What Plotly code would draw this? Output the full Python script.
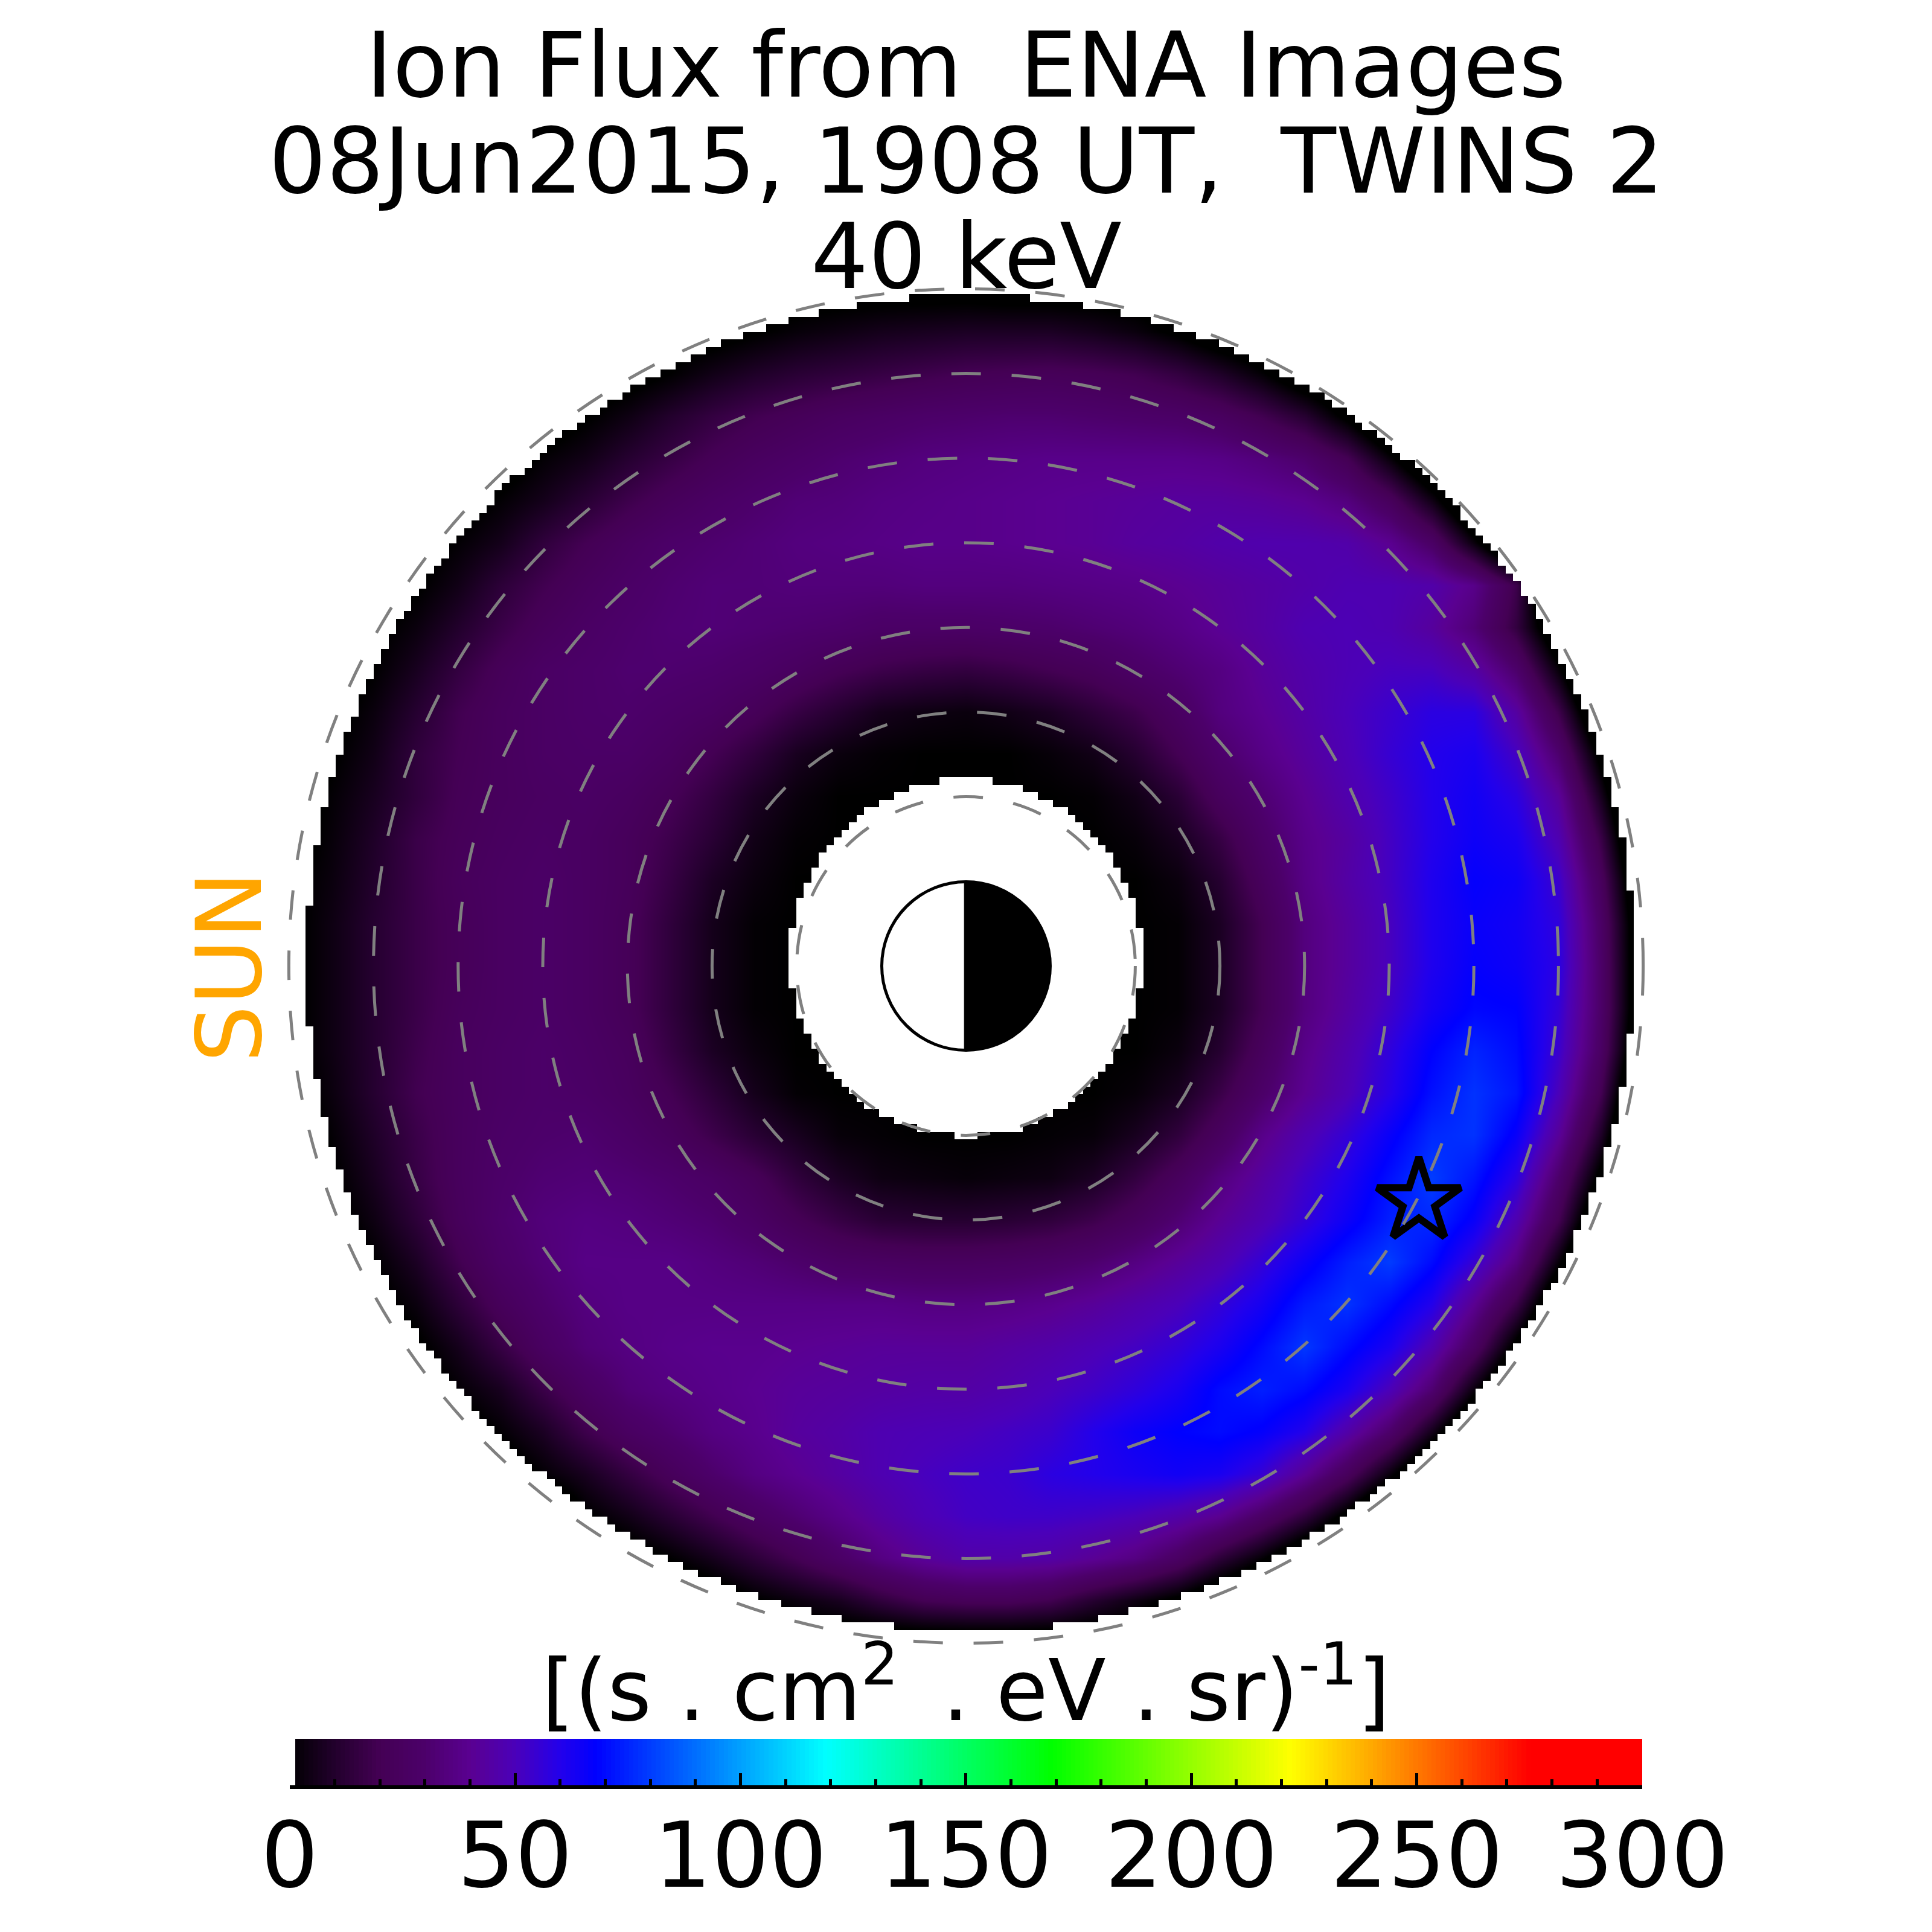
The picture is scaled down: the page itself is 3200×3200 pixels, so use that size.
import numpy as np
import plotly.graph_objects as go

PAGE = 3200
RE = 140.2  # pixels per Earth radius

title_lines = ["Ion Flux from  ENA Images", "08Jun2015, 1908 UT,  TWINS 2", "40 keV"]
unit_label = "[(s . cm<sup>2</sup>\u2009 . eV . sr)<sup>-1</sup>]"
side_label = "SUN"
star_x = [5.35]
star_y = [-2.78]
ring_radii = [2, 3, 4, 5, 6, 7, 8]
tick_values = [0, 50, 100, 150, 200, 250, 300]
tick_labels = ["0", "50", "100", "150", "200", "250", "300"]

grid_x = [-8 + 0.5 * i for i in range(33)]
grid_y = [8 - 0.5 * i for i in range(33)]

# Values outside the image edge are below the scale (black) and hidden by the white clip.
z0 = [0] * 9
flux = [
 [-4]*17 + [-5]*8 + [-10]*8,
 [-4]*10 + [-4,-1,2,4,6,7,8,8,8,6,3,-2,-9] + [-12]*10,
 [-5]*8 + [-4,0,5,9,12,14,16,18,20,21,22,21,19,15,9,1,-10] + [-15]*8,
 [-6]*7 + [-1,4,10,15,19,22,25,27,29,30,31,31,30,29,28,25,19,11,-3] + [-20]*7,
 [-5]*6 + [1,5,11,16,21,25,28,31,33,35,36,37,38,38,38,38,37,34,30,20,2] + [-18]*6,
 [-4]*5 + [1,6,12,18,23,27,30,33,34,36,37,38,39,40,41,42,43,43,42,40,35,24,5] + [-20]*5,
 [-4]*4 + [1,6,14,20,25,29,31,33,35,36,37,38,38,39,40,41,43,44,46,47,47,46,40,28,3] + [-24]*4,
 [-5]*3 + [-1,5,13,19,24,28,31,33,33,34,34,34,35,35,35,36,37,38,40,42,44,46,48,48,46,38,18] + [-30]*3,
 [-6]*2 + [-2,3,10,17,23,27,30,32,33,32,31,30,28,28,28,29,30,32,34,37,41,44,48,49,48,43,33,15,-14] + [-40]*2,
 [-5]*2 + [0,7,15,22,27,29,31,31,30,28,25,21,18,16,15,17,20,23,28,32,36,42,46,49,51,51,45,30,2] + [-32]*2,
 [-8] + [-3,3,11,19,24,27,29,30,28,26,22,16,11,6,4,3,5,8,13,18,26,35,40,45,50,54,58,58,44,18,-18] + [-50],
 [-6] + [-1,5,14,20,24,27,28,28,25,20,14,7,3,1,0,0,0,2,5,11,20,30,37,43,49,55,60,62,52,31,-4] + [-42],
 [-5,1,7,14,21,24,26,27,25,21,15,8,3,0,0,0,0,0,0,1,5,12,24,32,40,47,53,60,64,58,42,7,-32],
 [-4,2,9,17,22,25,27,26,23,18,12,5,1,0,0,0,0,0,0,0,2,7,16,28,38,44,52,60,65,62,48,17,-25],
 [-2,3,10,17,23,26,28,26,23,16,8,3] + z0 + [3,11,24,37,45,52,61,67,65,54,24,-18],
 [-2,4,11,17,22,26,28,26,22,14,6,1] + z0 + [1,8,20,35,43,51,61,66,64,57,28,-14],
 [-2,4,11,17,22,26,28,26,22,14,6,1] + z0 + [1,8,20,35,43,51,61,67,65,58,29,-14],
 [-2,4,11,17,23,26,28,26,22,14,6,1] + z0 + [1,8,20,35,44,53,63,69,68,56,29,-14],
 [-2,4,11,18,24,27,29,27,24,16,8,3] + z0 + [3,11,24,38,47,57,68,75,70,54,27,-18],
 [-4,3,11,19,24,27,29,28,25,20,13,6,1] + [0]*7 + [2,7,17,29,40,49,59,71,78,72,50,20,-28],
 [-6,1,9,17,24,28,30,31,28,24,18,12,7,2,1,0,0,0,1,2,7,14,25,38,48,56,66,76,78,66,42,9,-35],
 [-8] + [-1,7,16,24,29,32,33,32,30,27,22,14,8,4,3,2,3,4,8,15,24,35,44,53,61,71,80,72,58,30,-4] + [-45],
 [-12] + [-3,4,13,23,30,34,36,35,33,31,27,21,16,12,11,11,12,14,18,24,32,41,48,56,65,74,76,66,48,20,-18] + [-55],
 [-14,-8] + [0,8,19,28,33,37,37,37,35,33,30,27,26,25,25,26,28,31,36,42,48,56,65,74,80,70,55,36,2] + [-32,-60],
 [-12,-8] + [-3,3,13,23,30,35,37,37,37,37,37,37,37,36,36,37,39,42,46,50,56,63,73,78,70,60,40,17,-17] + [-40,-60],
 [-18,-14,-8] + [-2,6,16,26,33,36,38,39,39,40,41,42,42,42,44,46,49,52,56,62,70,79,70,62,48,26,-4] + [-30,-45,-60],
 [-14,-12,-8,-6] + [1,7,17,26,33,36,38,40,42,43,44,45,45,47,50,53,57,62,70,74,70,62,50,32,3] + [-22,-38,-45,-50],
 [-14,-12,-10,-8,-5] + [1,8,18,26,31,36,39,43,45,48,49,50,52,54,60,65,68,70,67,60,46,30,6] + [-20,-30,-35,-40,-40],
 [-14,-12,-10,-10,-8,-6] + [1,7,15,23,30,36,40,44,48,51,53,54,58,60,62,64,62,55,41,24,3] + [-20,-30,-35,-35,-35,-35],
 [-14]*7 + [-1,5,12,19,26,32,38,44,49,52,53,53,52,50,46,40,28,14,-4] + [-25]*7,
 [-10]*8 + [-5,0,6,13,20,28,36,42,46,46,45,41,36,27,13,1,-14] + [-25]*8,
 [-10]*10 + [-7,-1,3,7,14,20,22,22,19,11,4,-3,-14] + [-20]*10,
 [-10]*12 + [-6,-8,-9,-9,-9,-9,-9,-9,-8] + [-16]*12,
]

scale_values = [0, 10, 20, 30, 40, 50, 60, 68, 119, 169, 222, 275, 300]
scale_colors = ["rgb(0,0,0)", "rgb(34,0,44)", "rgb(68,0,84)", "rgb(76,0,106)", "rgb(90,0,145)",
                "rgb(75,0,185)", "rgb(35,0,235)", "rgb(0,0,255)", "rgb(0,255,255)", "rgb(0,255,0)",
                "rgb(255,255,0)", "rgb(255,0,0)", "rgb(255,0,0)"]
colorscale = [[v / 300, c] for v, c in zip(scale_values, scale_colors)]

fig = go.Figure()

fig.add_trace(go.Heatmap(x=grid_x, y=grid_y, z=flux, zsmooth="best", coloraxis="coloraxis",
                         hoverinfo="skip"))

# White clip: the image is a stair-stepped annulus on a pixel grid.
cell = 12.5 / RE
edge_x = (506 - 1600) / RE + cell * (np.arange(-12, 190) + 0.5)
edge_y = (1600 - 487) / RE - cell * (np.arange(-12, 190) + 0.5)
gx, gy = np.meshgrid(edge_x, edge_y)
outer = np.hypot((gx - 0.05) / 7.84, (gy - 0.036) / 7.89) > 1
inner = np.hypot(gx / 2.083, (gy - 0.1) / 2.11) < 1
clip = np.where(outer | inner, 1.0, np.nan)
fig.add_trace(go.Heatmap(x=edge_x, y=edge_y, z=clip, zmin=0, zmax=1, showscale=False, hoverinfo="skip",
                         colorscale=[[0, "white"], [1, "white"]]))

fig.add_trace(go.Scatter(x=star_x, y=star_y, mode="markers", hoverinfo="skip",
                         marker=dict(symbol="star-open", size=104, color="black",
                                     line=dict(color="black", width=12))))

bar_values = np.arange(1.75, 300.5, 1.0)
fig.add_trace(go.Heatmap(x=bar_values, y=[0, 1], z=[bar_values, bar_values], coloraxis="coloraxis",
                         xaxis="x2", yaxis="y2", hoverinfo="skip"))

shapes = []
for r in ring_radii:
    shapes.append(dict(type="circle", xref="x", yref="y", x0=-r, x1=r, y0=-r, y1=r,
                       line=dict(color="rgb(128,128,128)", width=5, dash="49px,51px")))
shapes.append(dict(type="circle", xref="x", yref="y", x0=-0.995, x1=0.995, y0=-0.995, y1=0.995,
                   fillcolor="white", line=dict(color="black", width=5)))
angle = np.linspace(-np.pi / 2, np.pi / 2, 121)
half = "M -0.02,-1 L " + " L ".join(f"{np.cos(a):.4f},{np.sin(a):.4f}" for a in angle) + " L -0.02,1 Z"
shapes.append(dict(type="path", xref="x", yref="y", path=half, fillcolor="black",
                   line=dict(color="black", width=1)))

font = "DejaVu Sans"
ann = []
for text, py in zip(title_lines, [108, 267, 425]):
    ann.append(dict(text=text, xref="paper", yref="paper", x=0.5, y=1 - py / PAGE, xanchor="center",
                    yanchor="middle", showarrow=False, font=dict(family=font, size=150, color="black")))
ann.append(dict(text=unit_label, xref="paper", yref="paper", x=1600 / PAGE, y=1 - 2790 / PAGE,
                xanchor="center", yanchor="middle", showarrow=False,
                font=dict(family=font, size=140, color="black")))
ann.append(dict(text=side_label, xref="paper", yref="paper", x=380 / PAGE, y=1 - 1602 / PAGE,
                xanchor="center", yanchor="middle", textangle=-90, showarrow=False,
                font=dict(family=font, size=150, color="rgb(255,165,0)")))

half_span = PAGE / 2 / RE
fig.update_layout(
    template="none",
    width=PAGE, height=PAGE, margin=dict(l=0, r=0, t=0, b=0, pad=0, autoexpand=False),
    paper_bgcolor="white", plot_bgcolor="white",
    showlegend=False, shapes=shapes, annotations=ann,
    coloraxis=dict(colorscale=colorscale, cmin=0, cmax=300, showscale=False),
    xaxis=dict(domain=[0, 1], range=[-half_span, half_span], visible=False, automargin=False),
    yaxis=dict(domain=[0, 1], range=[-half_span, half_span], visible=False, automargin=False),
    xaxis2=dict(domain=[479.7 / PAGE, 2720 / PAGE], anchor="y2", range=[0, 300], automargin=False,
                tickmode="array", tickvals=tick_values, ticktext=tick_labels,
                ticks="inside", ticklen=20, tickwidth=5, tickcolor="black",
                showline=True, linecolor="black", linewidth=6, showgrid=False, zeroline=False,
                ticklabelstandoff=-18,
                tickfont=dict(family=font, size=150, color="black"),
                minor=dict(dtick=10, tick0=0, ticks="inside", ticklen=10, tickwidth=5,
                           tickcolor="black", showgrid=False)),
    yaxis2=dict(domain=[1 - 2957 / PAGE, 1 - 2880 / PAGE], anchor="x2", range=[0, 1], visible=False,
                automargin=False),
)

fig.write_html("out.html", config=dict(displayModeBar=False),
               post_script="document.body.style.margin='0';")
